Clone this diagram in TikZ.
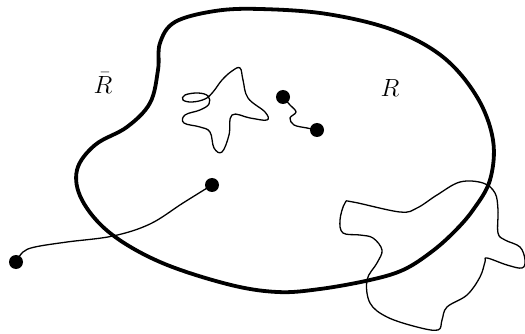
\documentclass[tikz,border=0pt]{standalone}
\usepackage{amsmath,amssymb}
\usepackage{tikz}
\usetikzlibrary{positioning,calc}
\definecolor{Ink}{HTML}{000000}
\tikzset{
  region/.style={draw=Ink,line width=3.8pt,line join=round},
  walk/.style={draw=Ink,line width=1.3pt,line join=round},
  pt/.style={circle,fill=Ink,draw=none,minimum size=14pt,inner sep=0pt},
  lab/.style={font=\fontsize{26}{30}\selectfont,inner sep=0pt}
}
\begin{document}
\begin{tikzpicture}[x=1pt,y=-1pt]
        \useasboundingbox (0,0) rectangle (525,334);
        % boundary of R
        \draw[region] plot[smooth cycle,tension=.6] coordinates {
          (175,22) (215,11) (260,9) (327,14) (393,30) (443,57) (477,97)
          (493,140) (490,180) (473,210) (453,233) (430,253) (403,270)
          (370,280) (320,289) (277,292) (227,284) (160,262) (110,233)
          (82,200) (77,170) (95,145) (127,127) (150,103) (158,70) (160,43)};

        \node[lab] (rbar) at (103,83) {$\bar{R}$};
        \node[lab] (r) at (390,88) {$R$};

        \node[pt] (a1) at (283,97) {};
        \node[pt] (a2) at (317,130) {};
        \node[pt] (b1) at (212,185) {};
        \node[pt] (b2) at (16,262) {};

        % loops
        \draw[walk] plot[smooth cycle,tension=.65] coordinates {
          (232,71) (240,68) (243,80) (248,98) (265,112) (267,120) (250,118)
          (232,115) (229,135) (222,152) (214,148) (210,132) (200,127)
          (184,123) (185,115) (200,110) (209,104) (208,96) (198,93)
          (185,95) (183,100) (192,102) (205,99) (213,92) (222,80)};
        \draw[walk] plot[smooth cycle,tension=.6] coordinates {
          (345,203) (353,202) (400,212) (417,208) (437,195) (460,182)
          (483,183) (495,193) (498,210) (498,233) (505,240) (520,247)
          (525,260) (522,268) (507,265) (487,258) (485,262) (480,277)
          (467,295) (447,307) (442,320) (438,330) (417,327) (387,317)
          (370,303) (367,280) (377,263) (382,250) (373,238) (360,235)
          (343,233) (340,220)};

        % paths between points
        \draw[walk] plot[smooth,tension=.6] coordinates {
          (a1.center) (290,105) (296,112) (290,118) (294,125) (307,128) (a2.center)};
        \draw[walk] plot[smooth,tension=.6] coordinates {
          (b2.center) (23,252) (35,247) (67,242) (113,236) (150,224)
          (183,203) (b1.center)};
      \end{tikzpicture}
\end{document}
